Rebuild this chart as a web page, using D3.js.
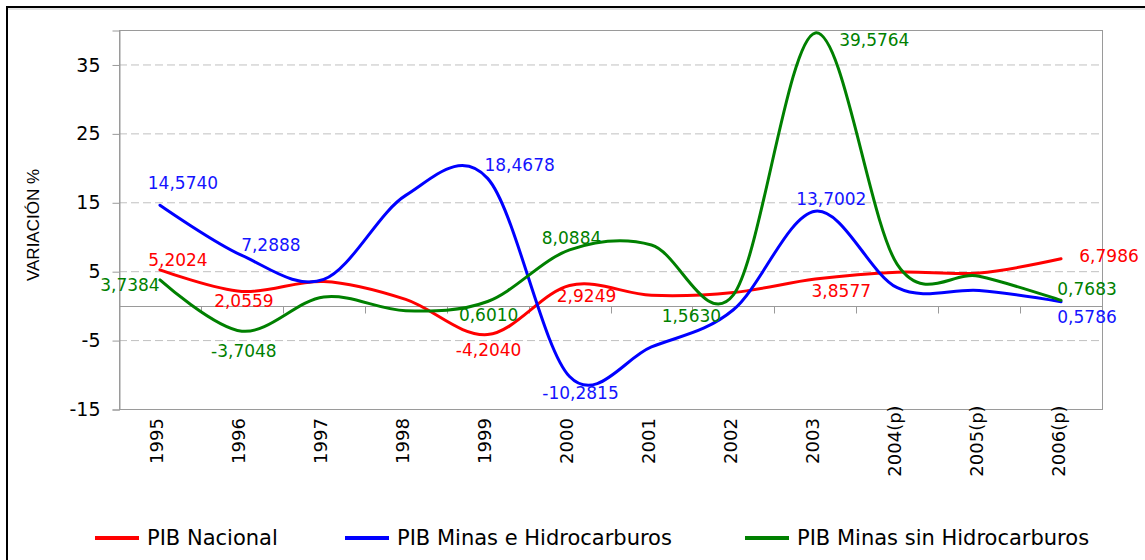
<!DOCTYPE html>
<html>
<head>
<meta charset="utf-8">
<script src="https://cdn.jsdelivr.net/npm/d3@7/dist/d3.min.js"></script>
<style>
html,body{margin:0;padding:0;background:#fff;}
svg{display:block;font-family:"DejaVu Sans",Verdana,sans-serif;}
</style>
</head>
<body>
<svg id="chart" width="1145" height="560"></svg>
<script>
// ---- data ----
const years = ["1995","1996","1997","1998","1999","2000","2001","2002","2003","2004(p)","2005(p)","2006(p)"];
const pibNacional = [5.2024, 2.0559, 3.5, 0.9, -4.2040, 2.9249, 1.5, 1.9, 3.8577, 4.85, 4.75, 6.7986];
const pibMinasHidro = [14.5740, 7.2888, 3.8, 16.0, 18.4678, -10.2815, -6.0, -0.6, 13.7002, 2.6, 2.2, 0.5786];
const pibMinasSinHidro = [3.7384, -3.7048, 1.26, -0.73, 0.6010, 8.0884, 8.8, 1.5630, 39.5764, 6.0, 4.26, 0.7683];
const yTicks = [-15, -5, 5, 15, 25, 35];
const seriesNames = ["PIB Nacional", "PIB Minas e Hidrocarburos", "PIB Minas sin Hidrocarburos"];
// indices of labelled points per series
const labelledRed = [0, 1, 4, 5, 8, 11];
const labelledBlue = [0, 1, 4, 5, 8, 11];
const labelledGreen = [0, 1, 4, 5, 7, 8, 11];

// ---- layout / style ----
const colors = ["#ff0000", "#0000ff", "#008000"];
const labelColors = ["#ff0000", "#1414ff", "#008000"];
const labelOffsets = [
  [[18,-10],[2,10],[1,15],[17,11],[26,12],[48,-3]],
  [[23,-22],[29,-10],[32,-13],[11,17],[16,-12],[26,15]],
  [[-30,5],[2,20],[1,14],[2,-12],[-42,21],[59,7],[26,-11]]
];
const M = {left:119, right:1102, top:30, bottom:409};

const svg = d3.select("#chart");

// outer frame
svg.append("rect").attr("x",7).attr("y",7).attr("width",1160).attr("height",580)
  .attr("fill","#fff").attr("stroke","#000").attr("stroke-width",2);
svg.append("line").attr("x1",8).attr("x2",1145).attr("y1",9).attr("y2",9)
  .attr("stroke","#c8c8c8").attr("stroke-width",1);

const x = d3.scaleBand().domain(years).range([M.left, M.right]).paddingInner(0).paddingOuter(0);
const xc = d => x(d) + x.bandwidth()/2;
const y = d3.scaleLinear().domain([-15, 40]).range([M.bottom, M.top]);

// gridlines
svg.append("g").selectAll("line").data(yTicks.filter(t => t !== -15)).join("line")
  .attr("x1", M.left).attr("x2", M.right)
  .attr("y1", d => y(d)+0.5).attr("y2", d => y(d)+0.5)
  .attr("stroke","#c0c0c0").attr("stroke-width",1).attr("stroke-dasharray","8,4");

// plot border
svg.append("rect").attr("x",M.left+0.5).attr("y",M.top+0.5)
  .attr("width",M.right-M.left).attr("height",M.bottom-M.top)
  .attr("fill","none").attr("stroke","#9a9a9a").attr("stroke-width",1);

// y axis
const yAxis = svg.append("g").attr("transform",`translate(${M.left+0.5},0.5)`)
  .call(d3.axisLeft(y).tickValues(yTicks).tickSize(7).tickPadding(12).tickFormat(d => String(d)));
yAxis.select(".domain").attr("stroke","#9a9a9a");
yAxis.selectAll(".tick line").attr("stroke","#9a9a9a");
yAxis.selectAll(".tick text").attr("font-size","19px").attr("fill","#000")
  .attr("font-family","'DejaVu Sans',Verdana,sans-serif");

// zero line with category ticks
const zeroG = svg.append("g").attr("transform",`translate(0,${Math.round(y(0))+0.5})`);
zeroG.append("line").attr("x1",M.left).attr("x2",M.right).attr("stroke","#9a9a9a").attr("stroke-width",1);
const bounds = years.map(d => x(d)).concat([M.right]);
zeroG.selectAll("line.tk").data(bounds).join("line").attr("class","tk")
  .attr("x1", d => Math.round(d)+0.5).attr("x2", d => Math.round(d)+0.5)
  .attr("y1",0).attr("y2",7).attr("stroke","#9a9a9a");

// x labels (rotated)
svg.append("g").selectAll("text").data(years).join("text")
  .attr("transform", d => `translate(${xc(d)-3},441) rotate(-90)`)
  .attr("text-anchor","middle").attr("dominant-baseline","central")
  .attr("font-size","18px").attr("fill","#000").text(d => d);

// y title
svg.append("text").attr("transform","translate(33,225) rotate(-90)")
  .attr("text-anchor","middle").attr("dominant-baseline","central")
  .attr("font-family","'Liberation Sans',Arial,sans-serif")
  .attr("font-size","17px").attr("fill","#000").text("VARIACIÓN %");

// lines
const seriesData = [pibNacional, pibMinasHidro, pibMinasSinHidro];
const line = d3.line().x((d,i) => xc(years[i])).y(d => y(d)).curve(d3.curveCardinal.tension(0));
seriesData.forEach((s, k) => {
  svg.append("path").datum(s).attr("d", line)
    .attr("fill","none").attr("stroke",colors[k]).attr("stroke-width",3)
    .attr("stroke-linejoin","round").attr("stroke-linecap","round");
});

// data labels
const labelled = [labelledRed, labelledBlue, labelledGreen];
const fmt = v => v.toFixed(4).replace(".", ",");
seriesData.forEach((s, k) => {
  labelled[k].forEach((idx, j) => {
    const [dx, dy] = labelOffsets[k][j];
    svg.append("text")
      .attr("x", xc(years[idx]) + dx).attr("y", y(s[idx]) + dy)
      .attr("text-anchor","middle").attr("dominant-baseline","central")
      .attr("font-size","17px").attr("fill",labelColors[k])
      .text(fmt(s[idx]));
  });
});

// legend
const legendX = [95, 345, 745];
const legend = svg.append("g");
seriesNames.forEach((n, k) => {
  legend.append("line").attr("x1",legendX[k]).attr("x2",legendX[k]+44)
    .attr("y1",538).attr("y2",538).attr("stroke",colors[k]).attr("stroke-width",4);
  legend.append("text").attr("x",legendX[k]+52).attr("y",538)
    .attr("dominant-baseline","central").attr("font-size","21px").attr("fill","#000").text(n);
});
</script>
</body>
</html>
